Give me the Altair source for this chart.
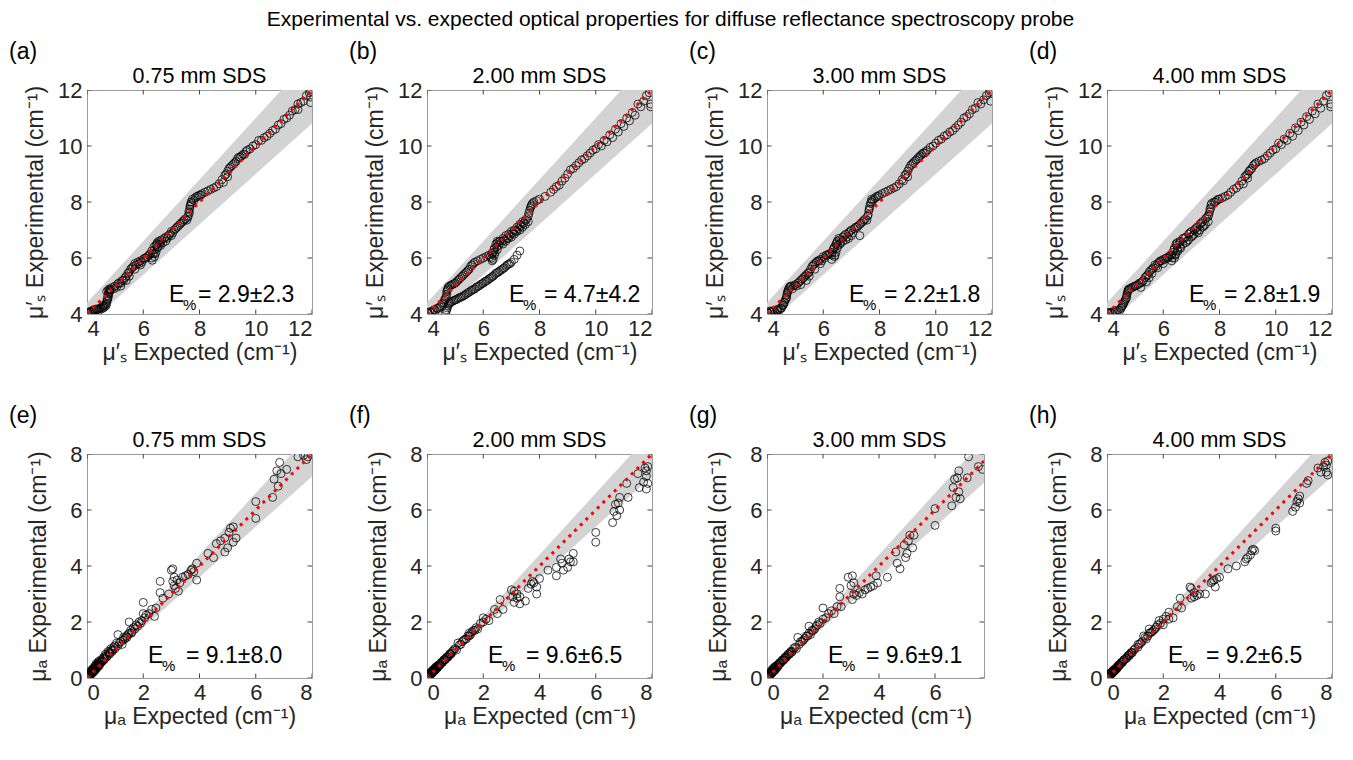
import altair as alt
import pandas as pd

SUPTITLE = "Experimental vs. expected optical properties for diffuse reflectance spectroscopy probe"
SDS_TITLES = ["0.75 mm SDS", "2.00 mm SDS", "3.00 mm SDS", "4.00 mm SDS",
              "0.75 mm SDS", "2.00 mm SDS", "3.00 mm SDS", "4.00 mm SDS"]
LETTERS = ["(a)", "(b)", "(c)", "(d)", "(e)", "(f)", "(g)", "(h)"]
E_MEAN = ["2.9", "4.7", "2.2", "2.8", "9.1", "9.6", "9.6", "9.2"]
E_STD = ["2.3", "4.2", "1.8", "1.9", "8.0", "6.5", "9.1", "6.5"]
BAND_FACTORS = [0.9, 1.1]
MUS_TICKS = [4, 6, 8, 10, 12]
MUA_TICKS = [0, 2, 4, 6, 8]
MUA_G_XTICKS = [0, 2, 4, 6]
MUS_DOMAIN = [4, 12]
MUA_DOMAIN = [0, 8]
MUA_G_XDOMAIN = [0, 7.75]
MUS_YTITLE = "μ′ₛ Experimental (cm⁻¹)"
MUS_XTITLE = "μ′ₛ Expected (cm⁻¹)"
MUA_YTITLE = "μₐ Experimental (cm⁻¹)"
MUA_XTITLE = "μₐ Expected (cm⁻¹)"

# (expected, experimental) pairs
PTS_A = [(4.02,4.05),(4.08,4.08),(4.15,4.1),(4.2,4.08),(4.25,4.12),(4.3,4.1),(4.35,4.15),(4.4,4.18),
         (4.45,4.2),(4.5,4.22),(4.55,4.28),(4.6,4.3),(4.65,4.35),(4.7,4.45),(4.72,4.55),(4.75,4.65),
         (4.78,4.75),(4.75,4.85),(4.8,4.9),(4.7,4.8),(4.85,4.88),(4.9,4.95),(5.0,5.0),(5.05,4.95),
         (5.1,5.08),(5.2,5.1),(5.2,5.0),(5.3,5.2),(5.4,5.35),(5.4,5.2),(5.5,5.5),(5.5,5.35),(5.6,5.65),
         (5.7,5.8),(5.7,5.6),(5.8,5.85),(5.9,5.9),(5.9,5.75),(6.0,5.95),(6.1,6.0),(6.2,6.1),(6.3,6.0),
         (6.32,5.92),(6.35,6.15),(6.4,6.3),(6.4,6.05),(6.45,6.45),(6.45,6.2),(6.5,6.55),(6.5,6.35),
         (6.55,6.6),(6.6,6.5),(6.65,6.65),(6.7,6.55),(6.8,6.75),(6.8,6.6),(6.9,6.8),(7.0,6.95),(7.0,6.8),
         (7.1,7.0),(7.2,7.1),(7.3,7.2),(7.4,7.3),(7.5,7.4),(7.55,7.35),(7.6,7.5),(7.62,7.65),(7.65,7.75),
         (7.68,7.9),(7.7,8.0),(7.75,8.1),(7.8,8.05),(7.9,8.2),(8.0,8.25),(8.1,8.3),(8.2,8.35),(8.3,8.4),
         (8.4,8.45),(8.5,8.5),(8.6,8.55),(8.7,8.65),(8.8,8.8),(8.85,8.7),(8.9,8.95),(9.0,9.1),(9.0,8.9),
         (9.1,9.25),(9.2,9.35),(9.3,9.45),(9.4,9.6),(9.5,9.65),(9.6,9.7),(9.7,9.85),(9.8,9.9),(9.9,10.0),
         (10.0,10.05),(10.1,10.2),(10.2,10.2),(10.3,10.3),(10.4,10.35),(10.5,10.45),(10.6,10.55),
         (10.7,10.6),(10.8,10.75),(10.9,10.8),(11.0,10.95),(11.1,11.0),(11.2,11.1),(11.3,11.25),
         (11.4,11.3),(11.5,11.5),(11.5,11.3),(11.6,11.55),(11.7,11.6),(11.8,11.8),(11.9,11.9),
         (11.95,11.95),(11.95,11.75),(11.95,11.55),
         (4.05,4.02),(4.12,4.06),(4.22,4.15),(4.32,4.18),(4.42,4.12),(4.52,4.18),(4.58,4.22),(4.62,4.25),
         (4.68,4.3),(4.7,4.38),(4.73,4.5),(4.76,4.6),(4.77,4.72),(4.8,4.8),(4.82,4.85),(4.95,4.9),
         (5.15,5.12),(5.25,5.2),(5.35,5.3),(5.45,5.45),(5.55,5.6),(5.65,5.7),(5.75,5.75),(5.85,5.8),
         (5.95,5.85),(6.05,6.0),(6.15,6.05),(6.25,6.15),(6.3,6.25),(6.38,6.4),(6.42,6.15),(6.48,6.5),
         (6.52,6.4),(6.58,6.55),(6.62,6.45),(6.75,6.7),(6.85,6.7),(6.95,6.85),(7.05,6.9),(7.15,7.05),
         (7.25,7.15),(7.35,7.25),(7.45,7.35),(7.58,7.45),(7.64,7.6),(7.66,7.85),(7.72,7.95),(7.85,8.15),
         (7.95,8.2),(8.05,8.25),(8.95,9.0),(9.05,9.2),(9.15,9.3),(9.25,9.4),(9.35,9.55),(9.45,9.6),
         (9.55,9.7),(9.65,9.8)]

PTS_B = [(4.02,4.05),(4.1,4.08),(4.2,4.1),(4.3,4.12),(4.4,4.2),(4.5,4.3),(4.6,4.4),(4.65,4.55),
         (4.7,4.7),(4.72,4.85),(4.75,4.95),(4.8,5.0),(4.9,5.05),(5.0,5.1),(5.1,5.2),(5.2,5.3),(5.3,5.4),
         (5.4,5.5),(5.5,5.6),(5.6,5.75),(5.7,5.85),(5.8,5.9),(5.9,5.95),(6.0,6.0),(6.1,6.05),(6.2,6.1),
         (6.3,6.0),(6.32,5.9),(6.35,6.2),(6.4,6.35),(6.4,6.1),(6.45,6.5),(6.5,6.6),(6.5,6.3),(6.55,6.45),
         (6.6,6.6),(6.7,6.7),(6.7,6.5),(6.8,6.8),(6.8,6.6),(6.9,6.85),(6.9,6.7),(7.0,6.95),(7.0,6.75),
         (7.1,7.0),(7.1,6.85),(7.2,7.1),(7.2,6.95),(7.3,7.2),(7.3,7.0),(7.4,7.3),(7.4,7.1),(7.5,7.35),
         (7.5,7.2),(7.6,7.5),(7.6,7.3),(7.65,7.7),(7.7,7.85),(7.75,7.95),(7.8,8.0),(7.9,8.05),(8.0,8.1),
         (8.2,8.2),(8.4,8.35),(8.5,8.45),(8.6,8.55),(8.7,8.6),(8.8,8.75),(8.9,8.85),(9.0,9.0),(9.1,9.15),
         (9.2,9.2),(9.3,9.3),(9.4,9.4),(9.5,9.5),(9.6,9.55),(9.7,9.65),(9.8,9.75),(9.9,9.85),(10.0,9.9),
         (10.1,10.05),(10.2,10.0),(10.3,10.2),(10.4,10.15),(10.5,10.4),(10.6,10.3),(10.7,10.6),
         (10.8,10.5),(10.9,10.8),(11.0,10.7),(11.1,11.0),(11.2,10.9),(11.3,11.2),(11.4,11.1),(11.5,11.5),
         (11.6,11.4),(11.7,11.6),(11.8,11.8),(11.9,11.9),(11.95,11.5),(11.95,11.4),
         (4.05,4.02),(4.15,4.05),(4.25,4.15),(4.35,4.2),(4.45,4.25),(4.55,4.35),(4.62,4.5),(4.68,4.62),
         (4.7,4.8),(4.74,4.9),(4.85,5.02),(4.95,5.08),(5.05,5.15),(5.15,5.25),(5.25,5.35),(5.35,5.45),
         (5.45,5.55),(5.55,5.7),(5.65,5.8),(6.25,6.05),(6.3,6.15),(6.35,5.95),(6.38,6.3),(6.42,6.2),
         (6.48,6.4),(6.52,6.55),(6.58,6.6),(6.65,6.55),(6.75,6.65),(6.85,6.7),(6.95,6.8),(7.05,6.9),
         (7.15,6.95),(7.25,7.05),(7.35,7.15),(7.45,7.25),(7.55,7.4),(7.62,7.6),(7.68,7.8),(7.72,7.9),
         (4.65,4.02),(4.7,4.15),(4.75,4.3),(4.8,4.4),(4.9,4.45),(5.0,4.5),(5.1,4.55),(5.2,4.6),
         (5.3,4.65),(5.4,4.72),(5.5,4.78),(5.6,4.85),(5.7,4.9),(5.8,4.98),(5.9,5.05),(6.0,5.1),
         (6.1,5.18),(6.2,5.25),(6.3,5.32),(6.4,5.4),(6.5,5.48),(6.6,5.55),(6.7,5.62),(6.8,5.7),
         (6.9,5.78),(7.0,5.85),(7.1,5.95),(7.3,6.25),
         (4.68,4.1),(4.72,4.22),(4.78,4.35),(4.85,4.42),(4.95,4.48),(5.05,4.52),(5.15,4.58),(5.25,4.62),
         (5.35,4.68),(5.45,4.75),(5.55,4.82),(5.65,4.88),(5.75,4.95),(5.85,5.0),(5.95,5.08),(6.05,5.15),
         (6.15,5.2),(6.25,5.28),(6.35,5.35),(6.45,5.45),(6.55,5.5),(6.65,5.58),(6.75,5.65),(6.85,5.75),
         (6.95,5.8),(7.2,6.1)]

PTS_C = [(4.02,4.05),(4.1,4.1),(4.15,4.08),(4.2,4.12),(4.3,4.05),(4.35,4.15),(4.4,4.18),(4.5,4.2),
         (4.55,4.3),(4.6,4.4),(4.65,4.5),(4.7,4.6),(4.72,4.75),(4.75,4.85),(4.8,4.95),(4.85,5.0),
         (4.9,4.9),(5.0,5.05),(5.1,5.1),(5.2,5.05),(5.2,5.2),(5.3,5.3),(5.4,5.4),(5.4,5.2),(5.5,5.5),
         (5.5,5.35),(5.6,5.7),(5.7,5.8),(5.7,5.6),(5.8,5.9),(5.9,5.95),(5.9,5.8),(6.0,6.05),(6.1,6.1),
         (6.2,6.15),(6.3,6.1),(6.3,5.95),(6.35,6.3),(6.4,6.4),(6.4,6.05),(6.45,6.5),(6.45,6.2),(6.5,6.6),
         (6.5,6.35),(6.55,6.7),(6.6,6.5),(6.7,6.75),(6.7,6.6),(6.8,6.85),(6.8,6.65),(6.9,6.9),(6.9,6.7),
         (7.0,7.0),(7.0,6.8),(7.1,7.05),(7.2,7.1),(7.3,7.2),(7.3,6.8),(7.4,7.3),(7.5,7.4),(7.55,7.35),
         (7.6,7.55),(7.62,7.7),(7.65,7.85),(7.7,8.0),(7.72,8.1),(7.8,8.1),(7.9,8.2),(8.0,8.25),(8.1,8.3),
         (8.2,8.35),(8.3,8.4),(8.4,8.45),(8.5,8.5),(8.6,8.55),(8.7,8.65),(8.8,8.8),(8.85,8.75),(8.9,8.95),
         (9.0,9.1),(9.0,8.9),(9.1,9.3),(9.2,9.4),(9.3,9.5),(9.4,9.6),(9.5,9.7),(9.6,9.75),(9.7,9.85),
         (9.8,9.95),(9.9,10.0),(10.0,10.1),(10.1,10.2),(10.2,10.25),(10.3,10.35),(10.4,10.4),
         (10.5,10.5),(10.6,10.55),(10.7,10.65),(10.8,10.75),(10.9,10.85),(11.0,11.0),(11.1,11.05),
         (11.2,11.15),(11.3,11.3),(11.4,11.35),(11.5,11.55),(11.6,11.5),(11.7,11.65),(11.8,11.8),
         (11.9,11.9),(11.95,11.95),(11.95,11.6),
         (4.05,4.02),(4.12,4.08),(4.25,4.1),(4.38,4.12),(4.45,4.15),(4.52,4.22),(4.58,4.32),(4.62,4.42),
         (4.68,4.55),(4.7,4.68),(4.74,4.8),(4.77,4.9),(4.82,4.98),(4.95,5.0),(5.05,5.0),(5.15,5.15),
         (5.25,5.25),(5.35,5.35),(5.45,5.45),(5.55,5.6),(5.65,5.75),(5.75,5.85),(5.85,5.9),(5.95,5.9),
         (6.05,6.0),(6.15,6.1),(6.25,6.15),(6.32,6.2),(6.38,6.35),(6.42,6.1),(6.48,6.55),(6.52,6.45),
         (6.58,6.65),(6.62,6.55),(6.75,6.8),(6.85,6.75),(6.95,6.95),(7.05,6.9),(7.15,7.1),(7.25,7.15),
         (7.35,7.25),(7.45,7.35),(7.58,7.5),(7.64,7.75),(7.68,7.95),(7.75,8.05),(7.85,8.15),(7.95,8.2),
         (8.95,9.0),(9.05,9.2),(9.15,9.35),(9.25,9.45),(9.35,9.55),(9.45,9.65),(9.55,9.75),(9.65,9.8)]

PTS_D = [(4.02,4.05),(4.1,4.05),(4.2,4.08),(4.3,4.1),(4.4,4.15),(4.5,4.2),(4.55,4.3),(4.6,4.4),
         (4.65,4.5),(4.7,4.6),(4.72,4.75),(4.75,4.85),(4.8,4.9),(4.9,4.95),(5.0,5.0),(5.1,5.05),
         (5.2,5.1),(5.2,4.95),(5.3,5.2),(5.4,5.35),(5.4,5.15),(5.5,5.5),(5.5,5.3),(5.6,5.6),(5.6,5.45),
         (5.7,5.75),(5.8,5.8),(5.8,5.65),(5.9,5.9),(6.0,5.95),(6.0,5.8),(6.1,6.0),(6.2,6.05),(6.3,6.1),
         (6.3,5.9),(6.35,6.2),(6.4,6.35),(6.4,6.0),(6.45,6.5),(6.45,6.15),(6.5,6.55),(6.5,6.3),(6.6,6.6),
         (6.6,6.4),(6.7,6.7),(6.7,6.5),(6.8,6.75),(6.8,6.55),(6.9,6.85),(6.9,6.65),(7.0,6.95),(7.0,6.75),
         (7.1,7.0),(7.1,6.85),(7.2,7.1),(7.2,6.95),(7.3,7.2),(7.3,7.0),(7.4,7.3),(7.4,7.1),(7.5,7.4),
         (7.5,7.2),(7.6,7.5),(7.6,7.3),(7.65,7.65),(7.7,7.8),(7.72,7.95),(7.8,8.0),(7.9,8.05),(8.0,8.1),
         (8.1,8.15),(8.2,8.2),(8.3,8.25),(8.4,8.35),(8.5,8.45),(8.6,8.5),(8.7,8.6),(8.8,8.75),(8.85,8.65),
         (8.9,8.9),(9.0,9.0),(9.0,8.85),(9.1,9.15),(9.2,9.3),(9.3,9.4),(9.4,9.45),(9.5,9.5),(9.6,9.55),
         (9.7,9.65),(9.8,9.75),(9.9,9.85),(10.0,9.9),(10.1,10.1),(10.2,10.05),(10.3,10.25),(10.4,10.2),
         (10.5,10.45),(10.6,10.35),(10.7,10.65),(10.8,10.55),(10.9,10.85),(11.0,10.75),(11.1,11.05),
         (11.2,10.95),(11.3,11.25),(11.4,11.15),(11.5,11.5),(11.6,11.35),(11.7,11.6),(11.8,11.8),
         (11.9,11.9),(11.95,11.5),(11.95,11.4),
         (4.05,4.02),(4.15,4.04),(4.25,4.06),(4.35,4.1),(4.45,4.12),(4.52,4.25),(4.58,4.35),(4.62,4.45),
         (4.68,4.55),(4.7,4.68),(4.74,4.8),(4.77,4.88),(4.85,4.92),(4.95,4.98),(5.05,5.02),(5.15,5.1),
         (5.25,5.15),(5.35,5.3),(5.45,5.4),(5.55,5.55),(5.65,5.65),(5.75,5.7),(5.85,5.85),(5.95,5.9),
         (6.05,5.95),(6.15,6.0),(6.25,6.1),(6.32,6.0),(6.38,6.3),(6.42,6.1),(6.48,6.45),(6.52,6.25),
         (6.58,6.55),(6.62,6.35),(6.75,6.7),(6.85,6.6),(6.95,6.9),(7.05,6.8),(7.15,7.05),(7.25,6.9),
         (7.35,7.25),(7.45,7.15),(7.55,7.45),(7.62,7.55),(7.66,7.75),(7.7,7.9),(7.85,8.0),(7.95,8.1),
         (8.95,8.95),(9.05,9.1),(9.15,9.2),(9.25,9.35)]

PTS_E = [(0.05,0.05),(0.08,0.15),(0.1,0.1),(0.12,0.25),(0.15,0.2),(0.18,0.3),(0.2,0.22),(0.22,0.35),
         (0.25,0.3),(0.28,0.42),(0.3,0.33),(0.32,0.5),(0.35,0.4),(0.38,0.55),(0.4,0.45),(0.42,0.6),
         (0.45,0.5),(0.5,0.65),(0.5,0.55),(0.55,0.6),(0.6,0.75),(0.6,0.65),(0.65,0.85),(0.7,0.75),
         (0.75,0.95),(0.8,0.85),(0.85,1.05),(0.9,0.95),(0.95,1.1),(1.0,1.05),(1.05,1.25),(1.1,1.55),
         (1.1,1.15),(1.2,1.3),(1.25,1.2),(1.3,1.45),(1.35,1.4),(1.4,1.5),(1.45,1.55),(1.5,2.0),(1.5,1.6),
         (1.55,1.7),(1.6,1.65),(1.65,1.8),(1.7,1.75),(1.75,1.9),(1.8,1.85),(1.85,2.0),(1.9,1.95),
         (1.95,2.05),(2.0,2.7),(2.0,2.3),(2.05,2.15),(2.1,2.25),(2.2,2.3),(2.3,2.45),(2.4,2.2),(2.45,2.5),
         (2.6,3.45),(2.6,3.05),(2.7,2.85),(2.9,3.0),(3.0,3.85),(3.05,3.9),(3.05,3.45),(3.1,3.6),(3.1,3.3),
         (3.15,3.2),(3.2,3.5),(3.25,3.1),(3.3,3.4),(3.4,3.6),(3.5,3.65),(3.6,3.7),(3.7,3.85),(3.75,3.9),
         (3.8,3.8),(3.9,3.5),(3.9,4.1),(4.3,4.45),(4.5,4.3),(4.6,4.8),(4.75,4.9),(4.9,4.5),(4.9,5.0),
         (5.0,4.65),(5.05,5.2),(5.1,5.35),(5.2,5.4),(5.2,4.85),(5.3,5.0),(6.0,6.3),(6.0,5.7),(6.6,6.45),
         (6.65,7.1),(6.75,7.4),(6.8,6.85),(6.85,7.7),(6.9,7.3),(7.1,7.45),(7.5,7.9),(7.7,7.95),(7.8,7.8),
         (7.85,7.9),
         (0.03,0.04),(0.06,0.1),(0.09,0.07),(0.11,0.16),(0.14,0.12),(0.16,0.24),(0.19,0.17),(0.21,0.28),
         (0.24,0.22),(0.26,0.36),(0.29,0.27),(0.31,0.43),(0.34,0.34),(0.37,0.48),(0.39,0.4),(0.41,0.52),
         (0.44,0.44),(0.47,0.58),(0.52,0.58),(0.57,0.7),(0.62,0.68),(0.67,0.8),(0.72,0.78),(0.78,0.92),
         (0.82,0.9),(0.88,1.0),(0.92,1.0),(0.98,1.15),(1.15,1.25),(1.28,1.35),(1.42,1.45),(1.58,1.6)]

PTS_F = [(0.05,0.05),(0.08,0.12),(0.1,0.1),(0.12,0.2),(0.15,0.18),(0.18,0.25),(0.2,0.2),(0.22,0.3),
         (0.25,0.28),(0.28,0.35),(0.3,0.3),(0.32,0.4),(0.35,0.38),(0.4,0.45),(0.45,0.45),(0.5,0.55),
         (0.55,0.55),(0.6,0.65),(0.65,0.65),(0.7,0.75),(0.75,0.75),(0.8,0.85),(0.85,0.85),(0.9,0.95),
         (1.0,1.05),(1.05,1.0),(1.1,1.25),(1.2,1.2),(1.3,1.35),(1.4,1.4),(1.5,1.6),(1.5,1.5),(1.6,1.65),
         (1.7,1.7),(1.75,1.8),(1.8,1.75),(1.9,1.95),(2.0,2.15),(2.0,2.0),(2.1,2.1),(2.2,2.05),(2.4,2.45),
         (2.5,2.3),(2.6,2.8),(2.7,2.45),(3.0,3.15),(3.05,2.9),(3.1,3.1),(3.1,2.7),(3.2,2.85),(3.2,3.0),
         (3.3,2.65),(3.3,2.9),(3.5,2.75),(3.6,3.2),(3.7,3.35),(3.75,3.45),(3.8,3.4),(3.9,3.25),(3.9,3.0),
         (4.0,3.55),(4.3,3.85),(4.6,3.95),(4.6,3.65),(4.75,4.25),(4.8,4.1),(4.85,3.85),(5.0,3.95),
         (5.05,4.25),(5.1,4.15),(5.2,4.45),(5.2,4.15),(6.0,5.2),(6.0,4.85),(6.6,5.55),(6.65,5.95),
         (6.7,6.2),(6.75,5.8),(6.8,6.25),(6.85,6.45),(6.85,6.0),(7.1,6.95),(7.15,6.45),(7.5,7.3),
         (7.55,6.8),(7.7,7.0),(7.75,7.5),(7.8,7.4),(7.8,7.2),(7.8,6.75),(7.85,6.95),(7.85,7.55),
         (0.03,0.04),(0.06,0.08),(0.09,0.08),(0.11,0.14),(0.14,0.13),(0.16,0.2),(0.19,0.18),(0.21,0.25),
         (0.24,0.23),(0.26,0.31),(0.29,0.28),(0.31,0.35),(0.34,0.33),(0.37,0.42),(0.39,0.38),(0.42,0.47),
         (0.47,0.48),(0.52,0.56),(0.57,0.6),(0.62,0.66),(0.67,0.7),(0.72,0.74),(0.78,0.8),(0.82,0.86),
         (0.88,0.9),(0.95,1.0),(1.15,1.18),(1.25,1.3),(1.35,1.38),(1.45,1.5),(1.55,1.55),(1.65,1.7)]

PTS_G = [(0.05,0.05),(0.08,0.15),(0.1,0.1),(0.12,0.22),(0.15,0.2),(0.18,0.3),(0.2,0.22),(0.22,0.35),
         (0.25,0.3),(0.28,0.4),(0.3,0.32),(0.35,0.45),(0.4,0.45),(0.45,0.55),(0.5,0.55),(0.55,0.65),
         (0.6,0.65),(0.65,0.75),(0.7,0.75),(0.75,0.85),(0.8,0.85),(0.85,0.95),(0.9,0.95),(1.0,1.1),
         (1.05,1.05),(1.1,1.45),(1.15,1.2),(1.2,1.3),(1.3,1.35),(1.4,1.5),(1.5,1.85),(1.5,1.6),
         (1.55,1.55),(1.6,1.7),(1.7,1.75),(1.8,1.9),(1.85,2.0),(1.9,1.95),(2.0,2.5),(2.0,2.1),(2.1,2.15),
         (2.2,2.3),(2.3,2.4),(2.4,2.3),(2.5,2.55),(2.6,3.2),(2.6,2.9),(2.65,2.55),(2.9,3.6),(3.0,3.3),
         (3.05,3.65),(3.05,2.8),(3.1,3.4),(3.1,3.0),(3.2,2.95),(3.3,3.05),(3.4,3.0),(3.5,3.15),(3.6,3.2),
         (3.7,3.25),(3.8,3.3),(3.9,3.65),(3.95,3.4),(4.3,3.6),(4.6,4.5),(4.65,4.1),(4.75,3.9),(4.9,4.75),
         (4.95,4.3),(5.0,4.45),(5.05,4.9),(5.1,5.1),(5.2,4.65),(5.25,5.1),(6.0,6.05),(6.0,5.45),
         (6.6,6.15),(6.65,6.8),(6.7,7.1),(6.75,6.45),(6.8,7.15),(6.85,7.4),(6.85,6.65),(6.9,6.4),
         (7.15,7.15),(7.2,7.9),(7.55,7.55),(7.7,7.45),
         (0.03,0.04),(0.06,0.1),(0.09,0.08),(0.11,0.15),(0.14,0.13),(0.16,0.22),(0.19,0.18),(0.21,0.27),
         (0.24,0.24),(0.26,0.34),(0.29,0.28),(0.31,0.4),(0.34,0.35),(0.37,0.46),(0.39,0.4),(0.42,0.5),
         (0.47,0.52),(0.52,0.6),(0.57,0.62),(0.62,0.7),(0.67,0.72),(0.72,0.8),(0.78,0.84),(0.82,0.9),
         (0.88,0.92),(0.95,1.05),(1.25,1.3),(1.35,1.42),(1.45,1.5),(1.65,1.7),(1.75,1.85)]

PTS_H = [(0.05,0.05),(0.08,0.12),(0.1,0.1),(0.12,0.18),(0.15,0.15),(0.18,0.22),(0.2,0.2),(0.22,0.28),
         (0.25,0.25),(0.3,0.32),(0.35,0.35),(0.4,0.45),(0.45,0.45),(0.5,0.55),(0.55,0.55),(0.6,0.65),
         (0.7,0.7),(0.75,0.8),(0.8,0.8),(0.85,0.9),(0.9,0.9),(1.0,1.05),(1.1,1.2),(1.1,1.1),(1.2,1.25),
         (1.3,1.5),(1.4,1.4),(1.5,1.6),(1.5,1.75),(1.6,1.65),(1.65,1.7),(1.7,1.75),(1.8,1.9),(1.85,2.05),
         (1.9,1.95),(2.0,2.1),(2.0,1.9),(2.1,2.2),(2.2,2.35),(2.2,2.1),(2.35,2.15),(2.5,2.55),(2.6,2.85),
         (2.65,2.5),(2.95,3.25),(3.0,3.2),(3.0,2.85),(3.1,3.05),(3.1,2.9),(3.2,2.95),(3.3,3.0),(3.5,3.0),
         (3.7,3.4),(3.75,3.45),(3.8,3.5),(3.85,3.25),(3.9,3.55),(4.0,3.6),(4.3,3.9),(4.6,4.0),(4.9,4.15),
         (4.95,4.25),(5.0,4.3),(5.1,4.4),(5.15,4.55),(5.2,4.6),(5.25,4.55),(6.0,5.35),(6.0,5.25),
         (6.6,5.95),(6.7,6.1),(6.75,6.3),(6.8,6.4),(6.85,6.5),(6.85,6.25),(7.1,6.95),(7.15,7.05),
         (7.5,7.5),(7.6,7.35),(7.7,7.55),(7.75,7.7),(7.8,7.6),(7.8,7.35),(7.85,7.25),(7.85,7.75),
         (0.03,0.04),(0.06,0.08),(0.09,0.08),(0.11,0.14),(0.14,0.12),(0.16,0.19),(0.19,0.17),(0.21,0.24),
         (0.24,0.22),(0.26,0.3),(0.29,0.27),(0.31,0.35),(0.34,0.32),(0.37,0.41),(0.39,0.38),(0.42,0.46),
         (0.47,0.5),(0.52,0.56),(0.57,0.6),(0.62,0.66),(0.67,0.7),(0.72,0.76),(0.78,0.82),(0.82,0.86),
         (0.88,0.92),(0.95,1.0),(1.15,1.2),(1.25,1.3),(1.35,1.45),(1.45,1.5),(1.55,1.62),(1.75,1.82)]

PANEL_POINTS = [PTS_A, PTS_B, PTS_C, PTS_D, PTS_E, PTS_F, PTS_G, PTS_H]

FONT = "Liberation Sans"
H = 224


def one_text(s, x, y, size, align="left", baseline="alphabetic"):
    return alt.Chart(pd.DataFrame({"t": [s]})).mark_text(
        align=align, baseline=baseline, fontSize=size, color="black", font=FONT
    ).encode(text="t:N", x=alt.value(x), y=alt.value(y))


def panel(i):
    top = i < 4
    W = 217 if i == 6 else 225
    if top:
        xd, yd = MUS_DOMAIN, MUS_DOMAIN
        xticks, yticks = MUS_TICKS, MUS_TICKS
        xt, yt = MUS_XTITLE, MUS_YTITLE
    else:
        xd = MUA_G_XDOMAIN if i == 6 else MUA_DOMAIN
        yd = MUA_DOMAIN
        xticks = MUA_G_XTICKS if i == 6 else MUA_TICKS
        yticks = MUA_TICKS
        xt, yt = MUA_XTITLE, MUA_YTITLE
    xs = alt.Scale(domain=xd, nice=False, zero=False)
    ys = alt.Scale(domain=yd, nice=False, zero=False)
    xax = alt.Axis(title=xt, values=xticks)
    yax = alt.Axis(title=yt, values=yticks, titleX=-40 if top else -37, titleY=H / 2)
    X = lambda f: alt.X(f, type="quantitative", scale=xs, axis=xax)
    Y = lambda f: alt.Y(f, type="quantitative", scale=ys, axis=yax)

    pdf = pd.DataFrame(PANEL_POINTS[i], columns=["x", "y"])
    bdf = pd.DataFrame({"x": xd,
                        "lo": [BAND_FACTORS[0] * v for v in xd],
                        "hi": [BAND_FACTORS[1] * v for v in xd]})
    ldf = pd.DataFrame({"x": xd, "y": xd})
    xtick_df = pd.DataFrame({"x": xticks * 2, "y": [yd[0]] * len(xticks) + [yd[1]] * len(xticks)})
    ytick_df = pd.DataFrame({"y": yticks * 2, "x": [xd[0]] * len(yticks) + [xd[1]] * len(yticks)})

    band = alt.Chart(bdf).mark_area(color="#d3d3d3", clip=True).encode(
        x=X("x"), y=Y("lo"), y2="hi:Q")
    pts = alt.Chart(pdf).mark_point(
        shape="circle", filled=False, size=64, color="black", strokeWidth=0.75, opacity=1, clip=True
    ).encode(x=X("x"), y=Y("y"))
    line = alt.Chart(ldf).mark_line(
        color="red", strokeWidth=3, strokeDash=[3, 5], clip=True
    ).encode(x=X("x"), y=Y("y"))
    xt_marks = alt.Chart(xtick_df).mark_tick(
        orient="vertical", size=9, thickness=1, color="#444", clip=True, opacity=1
    ).encode(x=X("x"), y=Y("y"))
    yt_marks = alt.Chart(ytick_df).mark_tick(
        orient="horizontal", size=9, thickness=1, color="#444", clip=True, opacity=1
    ).encode(x=X("x"), y=Y("y"))

    x0 = 82 if top else 61
    yb = H - 12 if top else H - 15
    if i == 0:
        eq = 29
    elif top:
        eq = 35
    else:
        eq = 38
    texts = [
        one_text(LETTERS[i], -78, -38, 23, baseline="middle"),
        one_text(SDS_TITLES[i], W / 2 if i != 6 else 112.5, -7, 21.5, align="center"),
        one_text("E", x0, yb, 23),
        one_text("%", x0 + 14, yb + 8, 15),
        one_text("= " + E_MEAN[i] + "±" + E_STD[i], x0 + eq, yb, 23),
    ]
    return alt.layer(band, pts, line, xt_marks, yt_marks, *texts).properties(width=W, height=H)


chart = alt.concat(
    *[panel(i) for i in range(8)],
    columns=4,
    bounds="flush",
    spacing={"row": 140, "column": 115},
).properties(
    title=alt.TitleParams(SUPTITLE, fontSize=21, fontWeight="normal", anchor="middle",
                          offset=11, color="black", font=FONT),
    padding=0,
).configure(font=FONT).configure_view(
    stroke="#9a9a9a", strokeWidth=1
).configure_axis(
    labelFontSize=22, labelColor="#262626", labelFont=FONT,
    titleFontSize=23, titleFontWeight="normal", titleColor="#262626", titleFont=FONT,
    domain=False, ticks=False, grid=False,
).configure_axisX(labelPadding=4, titlePadding=2).configure_axisY(labelPadding=5)

chart.save("out.html", embed_options={"renderer": "svg", "actions": False})
